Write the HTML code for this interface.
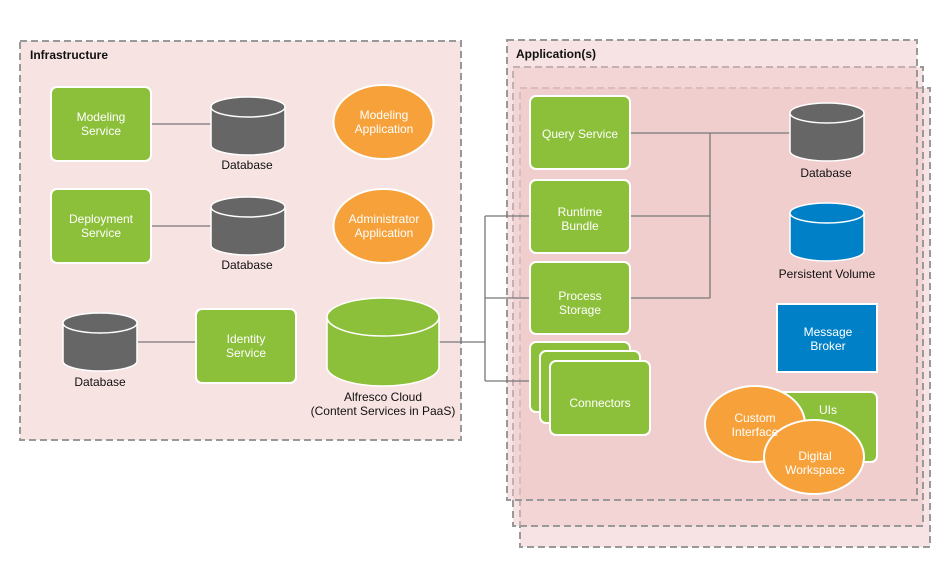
<!DOCTYPE html>
<html><head><meta charset="utf-8"><style>
body{margin:0;background:#fff;}
svg{display:block;font-family:"Liberation Sans",Arial,sans-serif;}
</style></head><body>
<svg width="950" height="574" viewBox="0 0 950 574" xmlns="http://www.w3.org/2000/svg">
<defs>
<g id="db"><path d="M0,10 L0,48 A37,10 0 0 0 74,48 L74,10" /><ellipse cx="37" cy="10" rx="37" ry="10"/></g>
</defs>
<!-- containers -->
<rect x="20" y="41" width="441" height="399" fill="#f8e3e3" stroke="#999" stroke-width="2" stroke-dasharray="7,4"/>
<g fill="#f0c8c8" fill-opacity="0.5" stroke="#999" stroke-width="2" stroke-dasharray="7,4">
<rect x="520" y="88" width="410" height="459"/>
<rect x="513" y="67" width="410" height="459"/>
<rect x="507" y="40" width="410" height="460"/>
</g>
<text x="30" y="59" font-size="12" font-weight="bold" fill="#111">Infrastructure</text>
<text x="516" y="58" font-size="12" font-weight="bold" fill="#111">Application(s)</text>
<!-- lines -->
<g stroke="#777" stroke-width="1.3" fill="none">
<line x1="151" y1="124" x2="211" y2="124"/>
<line x1="151" y1="226" x2="211" y2="226"/>
<line x1="138" y1="342" x2="196" y2="342"/>
<polyline points="439,342 485,342"/>
<line x1="485" y1="216" x2="485" y2="381"/>
<line x1="485" y1="216" x2="530" y2="216"/>
<line x1="485" y1="298" x2="530" y2="298"/>
<line x1="485" y1="381" x2="530" y2="381"/>
<line x1="630" y1="133" x2="790" y2="133"/>
<line x1="630" y1="216" x2="710" y2="216"/>
<line x1="630" y1="298" x2="710" y2="298"/>
<line x1="710" y1="133" x2="710" y2="298"/>
</g>
<!-- green boxes -->
<g fill="#8dc03a" stroke="#fff" stroke-width="2">
<rect x="51" y="87" width="100" height="74" rx="6"/>
<rect x="51" y="189" width="100" height="74" rx="6"/>
<rect x="196" y="309" width="100" height="74" rx="6"/>
<rect x="530" y="96" width="100" height="73" rx="6"/>
<rect x="530" y="180" width="100" height="73" rx="6"/>
<rect x="530" y="262" width="100" height="72" rx="6"/>
<rect x="530" y="342" width="100" height="70" rx="6"/>
<rect x="540" y="351" width="100" height="72" rx="6"/>
<rect x="550" y="361" width="100" height="74" rx="6"/>
<rect x="760" y="392" width="117" height="70" rx="6"/>
</g>
<!-- databases -->
<g fill="#666" stroke="#fff" stroke-width="1.5">
<use href="#db" x="211" y="97"/>
<use href="#db" x="211" y="197"/>
<use href="#db" x="63" y="313"/>
<use href="#db" x="790" y="103"/>
</g>
<g fill="#0080c6" stroke="#fff" stroke-width="1.5">
<use href="#db" x="790" y="203"/>
</g>
<g fill="#8dc03a" stroke="#fff" stroke-width="1.5">
<path d="M327,317 L327,367 A56,19 0 0 0 439,367 L439,317"/>
<ellipse cx="383" cy="317" rx="56" ry="19"/>
</g>
<rect x="777" y="304" width="100" height="68" fill="#0080c6" stroke="#fff" stroke-width="2"/>
<!-- ellipses -->
<g fill="#f6a13a" stroke="#fff" stroke-width="2">
<ellipse cx="383.5" cy="122" rx="50" ry="37"/>
<ellipse cx="383.5" cy="226" rx="50" ry="37"/>
<ellipse cx="755" cy="424" rx="50" ry="38"/>
<ellipse cx="814" cy="457" rx="50" ry="37"/>
</g>
<!-- text -->
<g font-size="12" fill="#fff" text-anchor="middle">
<text x="101" y="121">Modeling</text><text x="101" y="135">Service</text>
<text x="101" y="223">Deployment</text><text x="101" y="237">Service</text>
<text x="246" y="343">Identity</text><text x="246" y="357">Service</text>
<text x="384" y="119">Modeling</text><text x="384" y="133">Application</text>
<text x="384" y="223">Administrator</text><text x="384" y="237">Application</text>
<text x="580" y="138">Query Service</text>
<text x="580" y="216">Runtime</text><text x="580" y="230">Bundle</text>
<text x="580" y="300">Process</text><text x="580" y="314">Storage</text>
<text x="600" y="407">Connectors</text>
<text x="828" y="336">Message</text><text x="828" y="350">Broker</text>
<text x="828" y="414">UIs</text>
<text x="755" y="422">Custom</text><text x="755" y="436">Interface</text>
<text x="815" y="460">Digital</text><text x="815" y="474">Workspace</text>
</g>
<g font-size="12" fill="#111" text-anchor="middle">
<text x="247" y="169">Database</text>
<text x="247" y="269">Database</text>
<text x="100" y="386">Database</text>
<text x="826" y="177">Database</text>
<text x="827" y="278">Persistent Volume</text>
<text x="383" y="401">Alfresco Cloud</text>
<text x="383" y="415">(Content Services in PaaS)</text>
</g>
</svg>
</body></html>
